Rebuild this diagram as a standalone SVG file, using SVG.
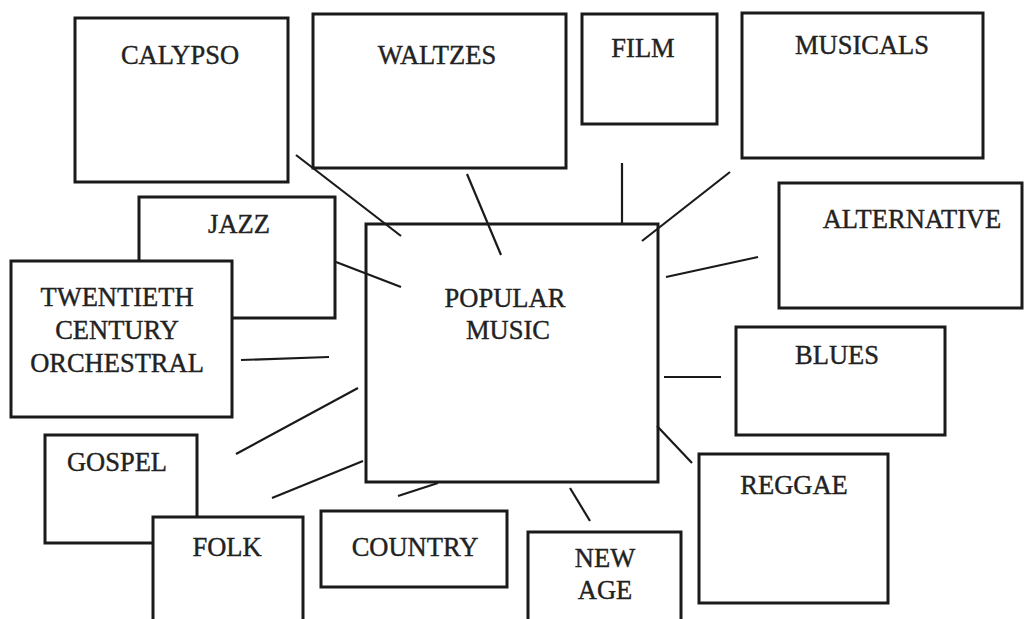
<svg xmlns="http://www.w3.org/2000/svg" width="1024" height="619" viewBox="0 0 1024 619">
<style>
.box{fill:#fff;stroke:#1a1a1a;stroke-width:3}
.lbl{font-family:"Liberation Serif","Times New Roman",serif;font-size:26.5px;fill:#222;stroke:#222;stroke-width:0.4;text-anchor:middle}
.con line{stroke:#1a1a1a;stroke-width:2.2}
</style>
<rect width="1024" height="619" fill="#fff"/>
<g id="calypso"><rect class="box" x="75" y="18" width="213" height="164"/><text class="lbl" x="180" y="64">CALYPSO</text></g>
<g id="waltzes"><rect class="box" x="313" y="14" width="253" height="154"/><text class="lbl" x="437" y="64">WALTZES</text></g>
<g id="film"><rect class="box" x="582" y="14" width="135" height="110"/><text class="lbl" x="643" y="57">FILM</text></g>
<g id="musicals"><rect class="box" x="742" y="13" width="241" height="145"/><text class="lbl" x="862" y="54">MUSICALS</text></g>
<g id="alternative"><rect class="box" x="779" y="183" width="243" height="125"/><text class="lbl" x="912" y="228">ALTERNATIVE</text></g>
<g id="jazz"><rect class="box" x="139" y="197" width="196" height="121"/><text class="lbl" x="239" y="233">JAZZ</text></g>
<g id="twentieth"><rect class="box" x="11" y="261" width="221" height="156"/><text class="lbl" x="117" y="306">TWENTIETH</text><text class="lbl" x="117" y="339">CENTURY</text><text class="lbl" x="117" y="372">ORCHESTRAL</text></g>
<g id="gospel"><rect class="box" x="45" y="435" width="152" height="108"/><text class="lbl" x="117" y="471">GOSPEL</text></g>
<g id="folk"><rect class="box" x="153" y="517" width="150" height="110"/><text class="lbl" x="227" y="556">FOLK</text></g>
<g id="country"><rect class="box" x="321" y="511" width="186" height="76"/><text class="lbl" x="415" y="556">COUNTRY</text></g>
<g id="newage"><rect class="box" x="528" y="532" width="153" height="95"/><text class="lbl" x="605" y="567">NEW</text><text class="lbl" x="605" y="599">AGE</text></g>
<g id="popular"><rect class="box" x="366" y="224" width="292" height="258"/><text class="lbl" x="505" y="307">POPULAR</text><text class="lbl" x="508" y="339">MUSIC</text></g>
<g id="blues"><rect class="box" x="736" y="327" width="209" height="108"/><text class="lbl" x="837" y="364">BLUES</text></g>
<g id="reggae"><rect class="box" x="699" y="454" width="189" height="149"/><text class="lbl" x="794" y="494">REGGAE</text></g>
<g id="connectors" class="con">
<line x1="296" y1="155" x2="401" y2="236"/>
<line x1="467" y1="174" x2="501" y2="255"/>
<line x1="622" y1="163" x2="622" y2="223"/>
<line x1="730" y1="172" x2="642" y2="241"/>
<line x1="666" y1="277" x2="758" y2="257"/>
<line x1="336" y1="262" x2="401" y2="287"/>
<line x1="241" y1="360" x2="329" y2="357"/>
<line x1="236" y1="454" x2="358" y2="388"/>
<line x1="272" y1="498" x2="363" y2="461"/>
<line x1="398" y1="496" x2="438" y2="483"/>
<line x1="570" y1="488" x2="590" y2="521"/>
<line x1="664" y1="377" x2="721" y2="377"/>
<line x1="657" y1="426" x2="692" y2="463"/>
</g>
</svg>
